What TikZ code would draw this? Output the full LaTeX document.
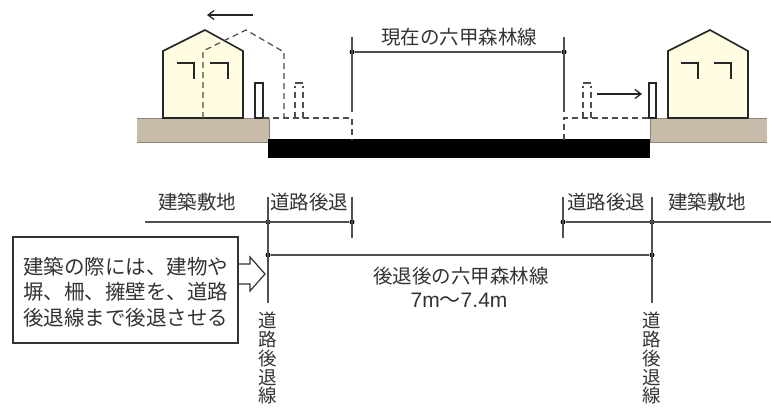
\documentclass[tikz,border=0pt]{standalone}
\usepackage{fontspec}
\newfontfamily\cjk{Noto Sans CJK JP}
\newfontfamily\latinsans{Liberation Sans}
\usetikzlibrary{arrows.meta}
\definecolor{wallfill}{HTML}{FFFCE1}
\definecolor{groundfill}{HTML}{C9BBAA}
\definecolor{groundedge}{HTML}{8E8478}
\definecolor{lineg}{HTML}{505050}
\definecolor{inkg}{HTML}{333333}
\begin{document}
\begin{tikzpicture}[x=1pt,y=-1pt,
  outline/.style={draw=black!85, line width=1.6pt, line join=miter},
  sash/.style={draw=black!85, line width=2pt},
  dim/.style={draw=lineg, line width=1.1pt},
  ghost/.style={draw=black!70, line width=1.2pt, dash pattern=on 6pt off 4pt},
  dot/.style={circle, fill=black, inner sep=0pt, minimum size=5pt},
  lbl/.style={font=\cjk\fontsize{19.5}{24}\selectfont, text=inkg, inner sep=0pt},
  vlbl/.style={font=\cjk\fontsize{18.5}{18.8}\selectfont, text=inkg, inner sep=0pt, align=center, anchor=north},
  move/.style={draw=black!85, line width=1.3pt, -{Straight Barb[length=6pt,width=9pt]}}]
\useasboundingbox (0,0) rectangle (771,410);

% ---------- ground, road ----------
\fill[groundfill] (137,118) rectangle (269,142);
\draw[groundedge, line width=0.8pt] (137,118) -- (269,118) (137,142) -- (269,142) (269,118) -- (269,142);
\fill[groundfill] (650,118) rectangle (767,142);
\draw[groundedge, line width=0.8pt] (650,118) -- (767,118) (650,142) -- (767,142) (650,118) -- (650,142);
\fill[black] (268,139) rectangle (650,158);

% ---------- left house ----------
\draw[outline, fill=wallfill] (163,118) -- (163,51) -- (205,30) -- (243,51) -- (243,118) -- cycle;
\draw[sash] (177,63) -- (194,63) -- (194,79);
\draw[sash] (210,63) -- (228,63) -- (228,79);
\draw[draw=black!85, line width=1.2pt, fill=white] (255,83) rectangle (263,118);

% former position of the left house and fence
\draw[ghost] (203,118) -- (203,51) -- (246,30) -- (284,52) -- (284,118);
\draw[ghost] (263,118) -- (352,118) -- (352,140);
\draw[ghost] (295,118) -- (295,86);
\draw[ghost] (303,118) -- (303,86);
\draw[draw=black!70, line width=1.2pt] (295,83) -- (303,83);

% ---------- right house ----------
\draw[outline, fill=wallfill] (668,118) -- (668,51) -- (710,30) -- (748,51) -- (748,118) -- cycle;
\draw[sash] (681,63) -- (698,63) -- (698,79);
\draw[sash] (714,63) -- (731,63) -- (731,79);
\draw[draw=black!85, line width=1.2pt, fill=white] (649,83) rectangle (656,118);

% former position of the right fence
\draw[ghost] (564,140) -- (564,118) -- (649,118);
\draw[ghost] (583,118) -- (583,86);
\draw[ghost] (591,118) -- (591,86);
\draw[draw=black!70, line width=1.2pt] (583,83) -- (591,83);

% movement arrows
\coordinate (mvLa) at (253,15);
\coordinate (mvLb) at (207,15);
\draw[move] (mvLa) -- (mvLb);
\coordinate (mvRa) at (597,94);
\coordinate (mvRb) at (642,94);
\draw[move] (mvRa) -- (mvRb);

% ---------- current road width ----------
\coordinate (curLt) at (352,37);
\coordinate (curLb) at (352,112);
\coordinate (curRt) at (564,37);
\coordinate (curRb) at (564,112);
\node[dot] (curL) at (352,52) {};
\node[dot] (curR) at (564,52) {};
\draw[dim] (curLt) -- (curLb);
\draw[dim] (curRt) -- (curRb);
\draw[dim] (curL) -- (curR);
\node[lbl] (curText) at (459,37) {現在の六甲森林線};

% ---------- setback dimensions ----------
\coordinate (siteL) at (145,222);
\coordinate (siteR) at (771,222);
\node[dot] (sbL1) at (268,222) {};
\node[dot] (sbL2) at (352,222) {};
\node[dot] (sbR1) at (563,222) {};
\node[dot] (sbR2) at (652,222) {};
\node[dot] (newL) at (268,255) {};
\node[dot] (newR) at (652,255) {};
\coordinate (lineLt) at (268,197);
\coordinate (lineLb) at (268,303);
\coordinate (lineRt) at (652,197);
\coordinate (lineRb) at (652,303);
\coordinate (tickLt) at (352,197);
\coordinate (tickLb) at (352,238);
\coordinate (tickRt) at (563,197);
\coordinate (tickRb) at (563,238);

\draw[dim] (siteL) -- (sbL2);
\draw[dim] (sbR1) -- (siteR);
\draw[dim] (lineLt) -- (lineLb);
\draw[dim] (lineRt) -- (lineRb);
\draw[dim] (tickLt) -- (tickLb);
\draw[dim] (tickRt) -- (tickRb);
\draw[dim] (newL) -- (newR);

\node[lbl] (siteTextL) at (197,202) {建築敷地};
\node[lbl] (sbTextL) at (309,202) {道路後退};
\node[lbl] (sbTextR) at (606,202) {道路後退};
\node[lbl] (siteTextR) at (707,202) {建築敷地};

\node[lbl] (newText) at (461,276) {後退後の六甲森林線};
\node[lbl, font=\latinsans\fontsize{21}{24}\selectfont] (newWidth) at (459,300) {7m{\cjk 〜}7.4m};

\node[vlbl] (vertL) at (268,312) {道\\路\\後\\退\\線};
\node[vlbl] (vertR) at (652,312) {道\\路\\後\\退\\線};

% ---------- note box with block arrow ----------
\draw[draw=black!80, line width=1.2pt, fill=white] (238,264) -- (250,264) -- (250,257) -- (265,274) -- (250,291) -- (250,284) -- (238,284);
\node[draw=black!80, line width=1.2pt, fill=white, minimum width=225pt, minimum height=106pt, inner sep=0pt] (note) at (125.5,290) {};
\node[lbl, align=left, anchor=west, font=\cjk\fontsize{20.5}{25.5}\selectfont] (noteText) at (23,292) {建築の際には、建物や\\塀、柵、擁壁を、道路\\後退線まで後退させる};
\end{tikzpicture}
\end{document}
